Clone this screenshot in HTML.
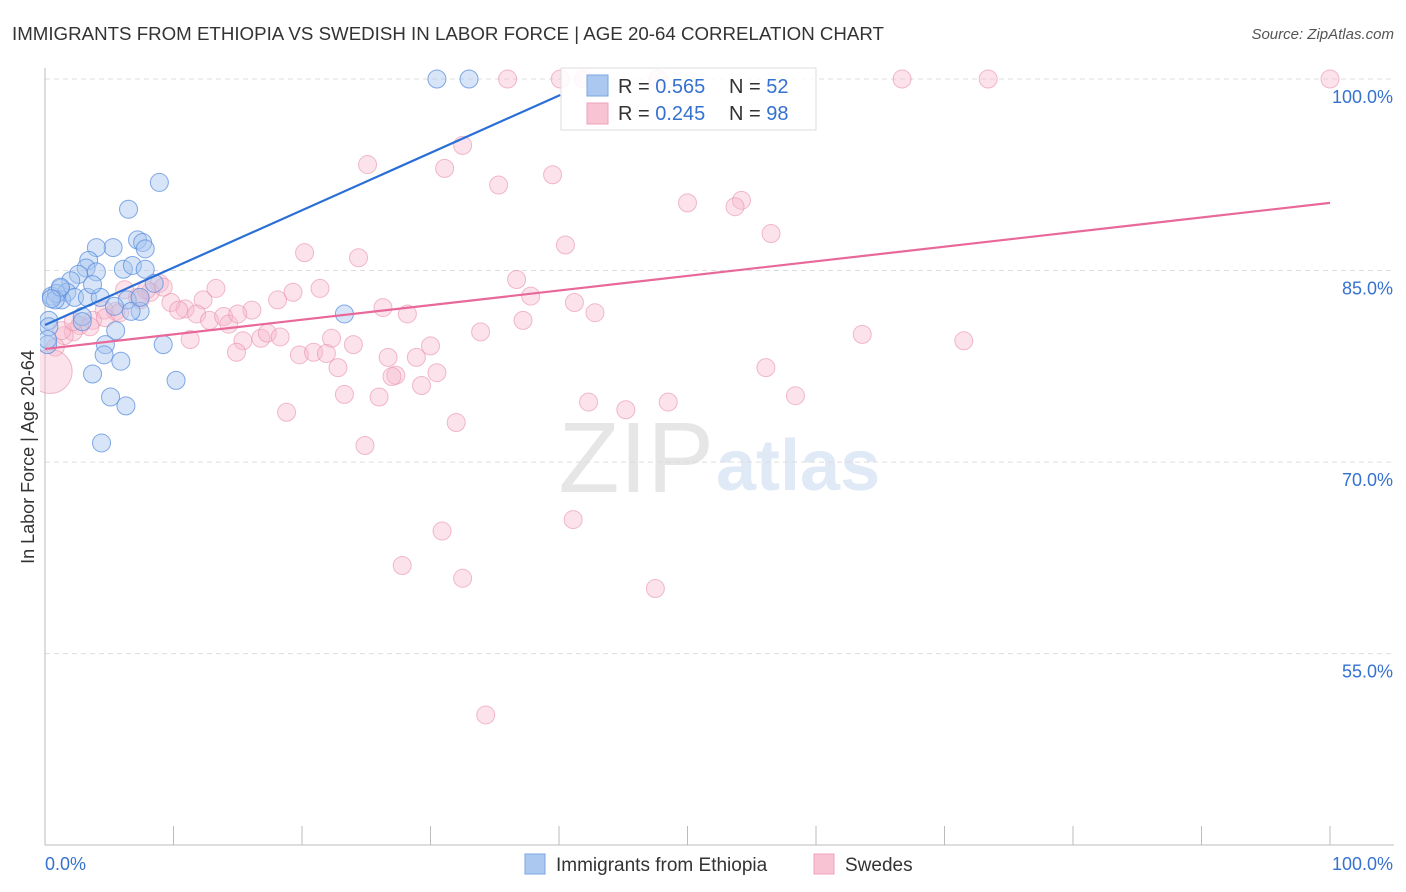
<!DOCTYPE html>
<html><head><meta charset="utf-8"><style>
body{margin:0;background:#fff;font-family:"Liberation Sans",sans-serif;}
#wrap{position:relative;width:1406px;height:892px;overflow:hidden;}
svg text{font-family:"Liberation Sans",sans-serif;}
</style></head><body>
<div id="wrap">
<svg id="chart" width="1406" height="892">
<defs><clipPath id="plotclip"><rect x="40" y="60" width="1360" height="790"/></clipPath></defs>
<text x="12" y="40" font-size="18" fill="#333" textLength="872" lengthAdjust="spacingAndGlyphs">IMMIGRANTS FROM ETHIOPIA VS SWEDISH IN LABOR FORCE | AGE 20-64 CORRELATION CHART</text>
<text x="1394" y="39" font-size="15" fill="#555" font-style="italic" text-anchor="end">Source: ZipAtlas.com</text>
<text x="714" y="492" font-size="100" fill="#e6e6e6" text-anchor="end" font-family="Liberation Serif">ZIP</text>
<text x="716" y="490" font-size="72" fill="#e0e9f6" font-weight="bold">atlas</text>
<g id="grid"></g>
<g id="axes"></g>
<g id="pts" clip-path="url(#plotclip)"></g>
<g id="lines"></g>
<text transform="translate(34,457) rotate(-90)" font-size="18" fill="#333" text-anchor="middle">In Labor Force | Age 20-64</text>
<g>
<rect x="561" y="68" width="255" height="62" fill="#fff" fill-opacity="0.85" stroke="#ddd"/>
<rect x="587" y="75" width="21" height="21" fill="#aac8f0" stroke="#7aa6e0"/>
<rect x="587" y="103" width="21" height="21" fill="#f8c4d4" stroke="#eea0b8"/>
<text x="618" y="93" font-size="20" fill="#333">R = <tspan fill="#3572d0">0.565</tspan></text>
<text x="729" y="93" font-size="20" fill="#333">N = <tspan fill="#3572d0">52</tspan></text>
<text x="618" y="120" font-size="20" fill="#333">R = <tspan fill="#3572d0">0.245</tspan></text>
<text x="729" y="120" font-size="20" fill="#333">N = <tspan fill="#3572d0">98</tspan></text>
</g>
<g>
<rect x="525" y="854" width="20" height="20" fill="#aac8f0" stroke="#7aa6e0"/>
<text x="556" y="871" font-size="19" fill="#333">Immigrants from Ethiopia</text>
<rect x="814" y="854" width="20" height="20" fill="#f8c4d4" stroke="#eea0b8"/>
<text x="845" y="871" font-size="19" fill="#333">Swedes</text>
</g>
</svg>
</div>
<script>
const yTicks=[100,85,70,55];
const xTickLabels=["0.0%","100.0%"];
const blueX=[30.5,33.0,8.9,6.5,7.2,7.6,7.8,5.3,4.0,3.4,3.2,4.0,2.6,6.1,6.8,7.8,2.0,1.2,1.7,1.3,0.5,0.9,2.3,3.3,4.3,3.7,6.4,8.5,7.4,6.7,2.9,0.3,0.3,5.5,4.7,9.2,4.6,0.2,5.9,3.7,10.2,5.1,6.3,4.4,23.3,5.4,2.9,0.8,1.2,0.5,7.4,0.2];
const blueY=[100,100,91.9,89.8,87.4,87.2,86.7,86.8,86.8,85.8,85.2,84.9,84.7,85.1,85.4,85.1,84.2,83.6,83.3,82.7,83.0,83.2,82.9,82.9,82.9,83.9,82.7,84.0,81.8,81.8,81.4,81.1,80.6,80.3,79.2,79.2,78.4,79.2,77.9,76.9,76.4,75.1,74.4,71.5,81.6,82.2,81.0,82.7,83.7,82.8,82.9,79.6];
const pinkX=[36.0,40.1,41.9,47.7,66.7,73.4,100,32.5,25.1,31.1,35.3,39.5,50.0,54.2,53.7,56.5,40.5,20.2,24.4,36.7,37.8,41.2,42.8,37.2,33.9,63.6,71.5,26.3,28.2,21.4,19.3,18.1,13.3,12.3,10.9,9.8,10.4,11.8,12.8,13.9,14.3,16.1,15.4,14.9,16.8,17.3,18.3,19.8,20.9,22.3,21.9,24.0,22.8,26.7,28.9,30.0,30.5,29.3,27.3,27.0,26.0,23.3,18.8,24.9,32.0,42.3,45.2,48.5,56.1,58.4,41.1,30.9,27.8,32.5,47.5,34.3,8.9,8.2,6.2,7.2,5.5,4.6,3.7,2.7,2.2,1.5,0.8,11.3,4.7,5.8,7.4,1.3,3.5,9.2,2.2,7.9,15.0,0.4];
const pinkY=[100,100,100,100,100,100,100,94.8,93.3,93.0,91.7,92.5,90.3,90.5,90.0,87.9,87.0,86.4,86.0,84.3,83.0,82.5,81.7,81.1,80.2,80.0,79.5,82.1,81.6,83.6,83.3,82.7,83.6,82.7,82.0,82.5,81.9,81.6,81.1,81.4,80.8,81.9,79.5,78.6,79.7,80.1,79.8,78.4,78.6,79.7,78.5,79.2,77.4,78.2,78.2,79.1,77.0,76.0,76.8,76.7,75.1,75.3,73.9,71.3,73.1,74.7,74.1,74.7,77.4,75.2,65.5,64.6,61.9,60.9,60.1,50.2,84.0,83.3,83.5,82.9,81.8,81.9,81.1,80.7,80.2,79.9,79.0,79.6,81.3,81.7,82.7,80.3,80.6,83.7,81.0,83.5,81.6,77.1];
const blueLine=[0,80.74,40.1,98.75];
const pinkLine=[0,78.86,100,90.3];
const NS="http://www.w3.org/2000/svg";
const sx=v=>45+v*12.85;
const sy=v=>79+(100-v)*12.77;
function mk(t,a,p){const e=document.createElementNS(NS,t);for(const k in a)e.setAttribute(k,a[k]);p.appendChild(e);return e;}
const grid=document.getElementById('grid'),axes=document.getElementById('axes'),pts=document.getElementById('pts'),lines=document.getElementById('lines');
yTicks.forEach(v=>{
 const l=mk('line',{x1:45,x2:1394,y1:sy(v),y2:sy(v),stroke:'#ddd','stroke-dasharray':'5,4'},grid);
 
 
 const t=mk('text',{x:1393,y:sy(v)+24,'font-size':18,fill:'#3572d0','text-anchor':'end'},axes);
 t.textContent=v.toFixed(1)+'%';
 
 
});
const ax=mk('line',{x1:45,x2:45,y1:68,y2:845,stroke:'#bbb'},axes);


const bx=mk('line',{x1:45,x2:1394,y1:845,y2:845,stroke:'#bbb'},axes);


for(let i=0;i<=10;i++){
 const tk=mk('line',{x1:sx(i*10),x2:sx(i*10),y1:826,y2:845,stroke:'#bbb'},axes);
 
 
}
[[0,'start',xTickLabels[0]],[100,'end',xTickLabels[1]]].forEach(([v,a,s],i)=>{
 const t=mk('text',{x:i?1393:45,y:870,'font-size':18,fill:'#3572d0','text-anchor':a},axes);
 t.textContent=s;
 
 
});
pinkX.forEach((x,i)=>{
 const big=i===pinkX.length-1;
 const c=mk('circle',{cx:sx(x),cy:sy(pinkY[i]),r:big?22:9,fill:'#f8b8cc','fill-opacity':0.4,stroke:'#e890aa','stroke-opacity':0.6},pts);
 
 
});
blueX.forEach((x,i)=>{
 const c=mk('circle',{cx:sx(x),cy:sy(blueY[i]),r:9,fill:'#a8c6f0','fill-opacity':0.45,stroke:'#5a8ede','stroke-opacity':0.75},pts);
 
 
});
const bl=mk('line',{x1:sx(blueLine[0]),y1:sy(blueLine[1]),x2:sx(blueLine[2]),y2:sy(blueLine[3]),stroke:'#2a6fd6','stroke-width':2.2},lines);


const pl=mk('line',{x1:sx(pinkLine[0]),y1:sy(pinkLine[1]),x2:sx(pinkLine[2]),y2:sy(pinkLine[3]),stroke:'#e8689a','stroke-width':2.2},lines);


</script>
</body></html>
